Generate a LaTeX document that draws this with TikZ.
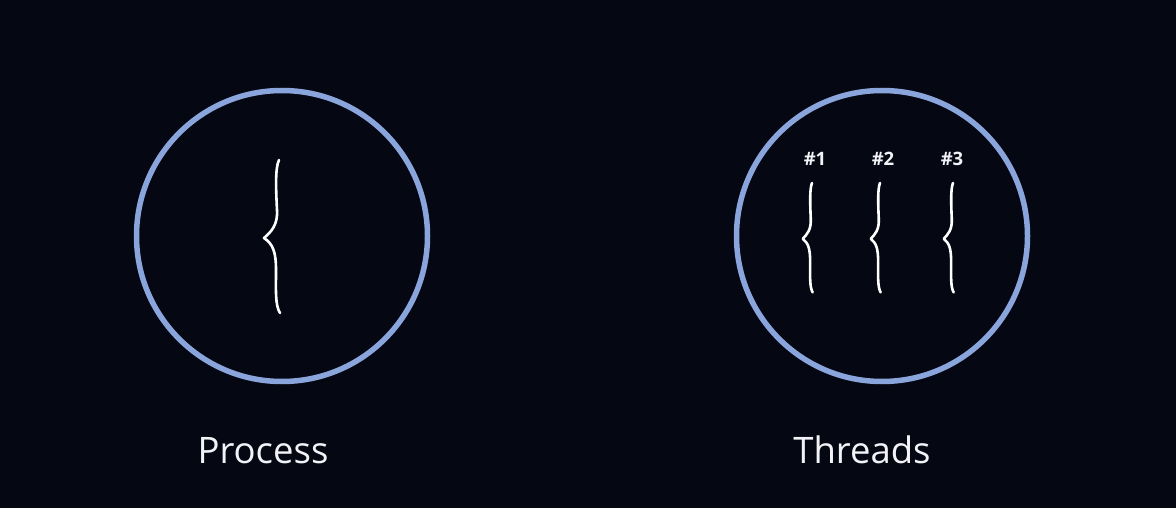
\documentclass[tikz,border=0pt]{standalone}
\usepackage{fontspec}
\setmainfont{Open Sans}
\definecolor{bg}{HTML}{050713}
\definecolor{ring}{HTML}{8AA4DC}
\definecolor{txt}{HTML}{F2F2F7}
\begin{document}
\begin{tikzpicture}[x=1pt,y=-1pt,
  ringnode/.style={circle,draw=ring,line width=5.5pt,minimum size=291pt,inner sep=0pt},
  bracestroke/.style={draw=white,line width=2.6pt,line cap=round,line join=round},
  lbl/.style={text=txt,font=\fontsize{36.5}{40}\selectfont,inner sep=0pt,anchor=base},
  tag/.style={text=txt,font=\bfseries\fontsize{18.5}{20}\selectfont,inner sep=0pt},
  wavybrace/.pic={
    \path[bracestroke] (0,0) .. controls (-4,8) and (-3,30) .. (-2,50)
      .. controls (-1,65) and (-8,72) .. (-15,78)
      .. controls (-6,84) and (-3,92) .. (-3,110)
      .. controls (-3,130) and (-4,145) .. (1,153);
  }]
\useasboundingbox[fill=bg] (0,0) rectangle (1176,508);
\node[ringnode] (proc) at (282,236) {};
\node[ringnode] (thr) at (882,236) {};
\pic at (279,160) {wavybrace};
\pic[xscale=0.62,yscale=0.715] at (812,183) {wavybrace};
\pic[xscale=0.62,yscale=0.715] at (880,183) {wavybrace};
\pic[xscale=0.62,yscale=0.715] at (953,183) {wavybrace};
\node[tag] (t1) at (815,159) {\#1};
\node[tag] (t2) at (883,159) {\#2};
\node[tag] (t3) at (952,159) {\#3};
\node[lbl] (plabel) at (263,463) {Process};
\node[lbl] (tlabel) at (862,463) {Threads};
\end{tikzpicture}
\end{document}
